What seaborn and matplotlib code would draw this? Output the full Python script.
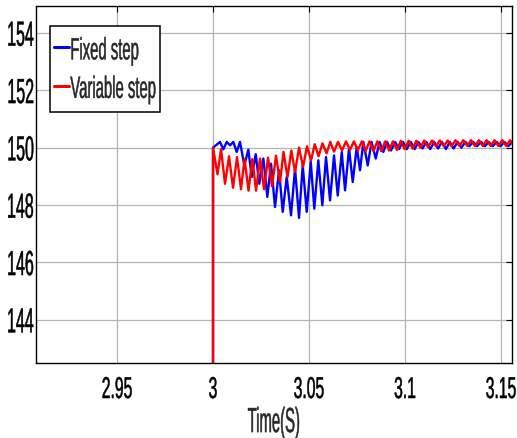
import numpy as np
import pandas as pd
import matplotlib
matplotlib.use("Agg")
import matplotlib.pyplot as plt
from matplotlib.patheffects import AbstractPathEffect
from matplotlib.transforms import Affine2D
from matplotlib.legend_handler import HandlerLine2D
from matplotlib.lines import Line2D
import seaborn as sns

# Turning points of the two responses, time in ms after the 3.000 s step
fixed_ms = [0, 0, 3.65, 5.36, 7.14, 8.85, 10.57, 12.34, 14.06,
            16.30, 18.39, 20.16, 22.24, 24.11, 26.20, 28.28, 30.21, 32.29, 34.38,
            36.30, 38.39, 40.63, 42.71, 44.79, 46.72, 48.80, 50.89, 52.76, 54.84,
            56.93, 58.85, 60.94, 63.02, 64.95, 67.03, 68.75, 70.83, 72.76, 74.84,
            76.56, 78.28, 80.57, 82.55, 84.74, 86.72, 88.70, 90.63, 92.71, 94.79,
            96.88, 98.9, 100.9, 103.0, 105.0, 107.0, 109.1, 111.1, 113.1, 115.2,
            117.2, 119.2, 121.3, 123.3, 125.3, 127.4, 129.4, 131.4, 133.5, 135.5,
            137.5, 139.6, 141.6, 143.6, 145.7, 147.7, 149.7, 151.8, 153.8, 155.8, 157.9]
fixed_val = [0, 150.0, 150.2, 149.94, 150.2, 150.08, 150.2, 149.85, 150.2,
             149.38, 149.93, 148.98, 149.77, 148.74, 149.62, 148.28, 149.44, 147.93, 149.21,
             147.76, 148.98, 147.64, 149.27, 147.55, 149.38, 147.76, 149.5, 147.87, 149.56,
             147.99, 149.67, 148.16, 149.73, 148.33, 149.85, 148.51, 149.97, 148.8, 150.02,
             149.21, 150.2, 149.38, 150.2, 149.62, 150.2, 149.85, 150.2, 149.9, 150.2,
             149.95, 150.2, 149.95, 150.2, 149.95, 150.2, 149.97, 150.2, 149.95, 150.2,
             149.97, 150.2, 149.95, 150.2, 149.97, 150.2, 150.0, 150.2, 150.05, 150.2,
             150.05, 150.2, 150.05, 150.2, 150.05, 150.2, 150.05, 150.2, 150.05, 150.2, 150.05]

variable_ms = [0, 0, 2.34, 4.17, 6.25, 8.33, 10.42, 12.5, 14.58, 16.41, 18.49, 20.47,
               22.40, 24.48, 26.56, 28.65, 30.73, 32.81, 34.90, 36.72, 38.80, 40.78,
               42.71, 44.79, 46.88, 48.96, 51.04, 52.97, 54.95, 57.03, 59.11, 61.09,
               63.02, 65.10, 67.19, 69.27, 71.35,
               73.4, 75.4, 77.5, 79.5, 81.5, 83.6, 85.6, 87.6, 89.7, 91.7,
               93.7, 95.8, 97.8, 99.8, 101.9, 103.9, 105.9, 108.0, 110.0, 112.0,
               114.1, 116.1, 118.1, 120.2, 122.2, 124.2, 126.3, 128.3, 130.3, 132.4,
               134.4, 136.4, 138.5, 140.5, 142.5, 144.6, 146.6, 148.6, 150.7, 152.7,
               154.7, 156.8]
variable_val = [0, 150.0, 149.07, 149.95, 148.74, 149.7, 148.6, 149.67, 148.55, 149.6, 148.5, 149.6,
                148.5, 149.62, 148.55, 149.65, 148.65, 149.72, 148.8, 149.85, 148.97, 149.9,
                149.15, 150.0, 149.33, 150.05, 149.55, 150.12, 149.7, 150.15, 149.8, 150.2,
                149.86, 150.2, 149.9, 150.22, 149.92,
                150.22, 149.9, 150.22, 149.88, 150.22, 149.88, 150.22, 149.88, 150.22, 149.9,
                150.22, 149.92, 150.24, 149.95, 150.24, 149.97, 150.24, 150.0, 150.25, 150.02,
                150.25, 150.05, 150.25, 150.05, 150.25, 150.05, 150.26, 150.06, 150.26, 150.06,
                150.26, 150.06, 150.26, 150.06, 150.26, 150.06, 150.26, 150.06, 150.26, 150.06,
                150.26, 150.06]

series_names = ["Fixed step", "Variable step"]
series_colors = ["#0000ff", "#ff0000"]
x_ticks = [2.95, 3.0, 3.05, 3.1, 3.15]
x_tick_labels = ["2.95", "3", "3.05", "3.1", "3.15"]
y_ticks = [144, 146, 148, 150, 152, 154]

step_time = 3.0


class TallText(AbstractPathEffect):
    """Draw text glyphs stretched vertically about their cap-height centre."""

    def __init__(self, sy, weight=0.35):
        super().__init__()
        self._sy = sy
        self._weight = weight

    def draw_path(self, renderer, gc, tpath, affine, rgbFace=None):
        # glyph paths use 100 units per em; cap height of the face is ~0.716 em
        cx, cy = affine.transform((0.0, 35.8))
        stretch = Affine2D().translate(-cx, -cy).scale(1.0, self._sy).translate(cx, cy)
        gc0 = renderer.new_gc()
        gc0.copy_properties(gc)
        gc0.set_linewidth(self._weight)
        if rgbFace is not None:
            gc0.set_foreground(rgbFace)
        renderer.draw_path(gc0, tpath, affine + stretch, rgbFace)
        gc0.restore()


class LoweredLine(HandlerLine2D):
    """Legend line handle drawn a little lower inside a tall legend row."""

    def __init__(self, drop, **kw):
        super().__init__(**kw)
        self._drop = drop

    def create_artists(self, legend, orig_handle, xdescent, ydescent, width,
                       height, fontsize, trans):
        artists = super().create_artists(legend, orig_handle, xdescent, ydescent,
                                         width, height, fontsize, trans)
        for a in artists:
            a.set_ydata(np.asarray(a.get_ydata(), dtype=float) - self._drop)
        return artists


sns.set_style("white")
plt.rcParams["font.family"] = ["Liberation Sans", "DejaVu Sans"]

fig = plt.figure(figsize=(5.17, 4.39), dpi=100)
ax = fig.add_axes([0.0696, 0.171, 0.9207, 0.813])

for name, color, ms, val in [(series_names[0], series_colors[0], fixed_ms, fixed_val),
                             (series_names[1], series_colors[1], variable_ms, variable_val)]:
    df = pd.DataFrame({"t": step_time + np.asarray(ms) / 1000.0, "v": val})
    sns.lineplot(data=df, x="t", y="v", color=color, lw=1.7, sort=False,
                 estimator=None, label=name, ax=ax)

ax.set_xlim(2.9078, 3.1557)
ax.set_ylim(142.49, 154.94)
ax.set_xticks(x_ticks)
ax.set_xticklabels(x_tick_labels)
ax.set_yticks(y_ticks)
ax.grid(True, color="#b4b4b4", lw=0.9)
ax.tick_params(direction="in", top=True, right=True, length=4, width=0.8, colors="black")
ax.tick_params(axis="x", pad=12.9, labelsize=11.3)
ax.tick_params(axis="y", pad=1.5, labelsize=11.5)
for s in ax.spines.values():
    s.set_color("black")
    s.set_linewidth(1.0)
ax.set_xlabel("Time(S)", fontsize=10.7, labelpad=13)
ax.set_ylabel("")

leg = ax.legend(loc="upper left", bbox_to_anchor=(0.0294, 0.9440), borderaxespad=0,
                fontsize=10.7, handlelength=1.0, handleheight=3.606, handletextpad=0.08,
                labelspacing=0.0, borderpad=0.29, fancybox=False, framealpha=1,
                edgecolor="black", handler_map={Line2D: LoweredLine(3.75)})
leg.get_frame().set_linewidth(1.1)
for line in leg.get_lines():
    line.set_linewidth(2.2)

fig.canvas.draw()
for lab in ax.get_xticklabels():
    lab.set_path_effects([TallText(1.92)])
for lab in ax.get_yticklabels():
    lab.set_path_effects([TallText(2.18)])
for txt in leg.get_texts():
    txt.set_path_effects([TallText(2.07)])
ax.xaxis.label.set_path_effects([TallText(2.35)])

fig.savefig("out.png", dpi=100)
